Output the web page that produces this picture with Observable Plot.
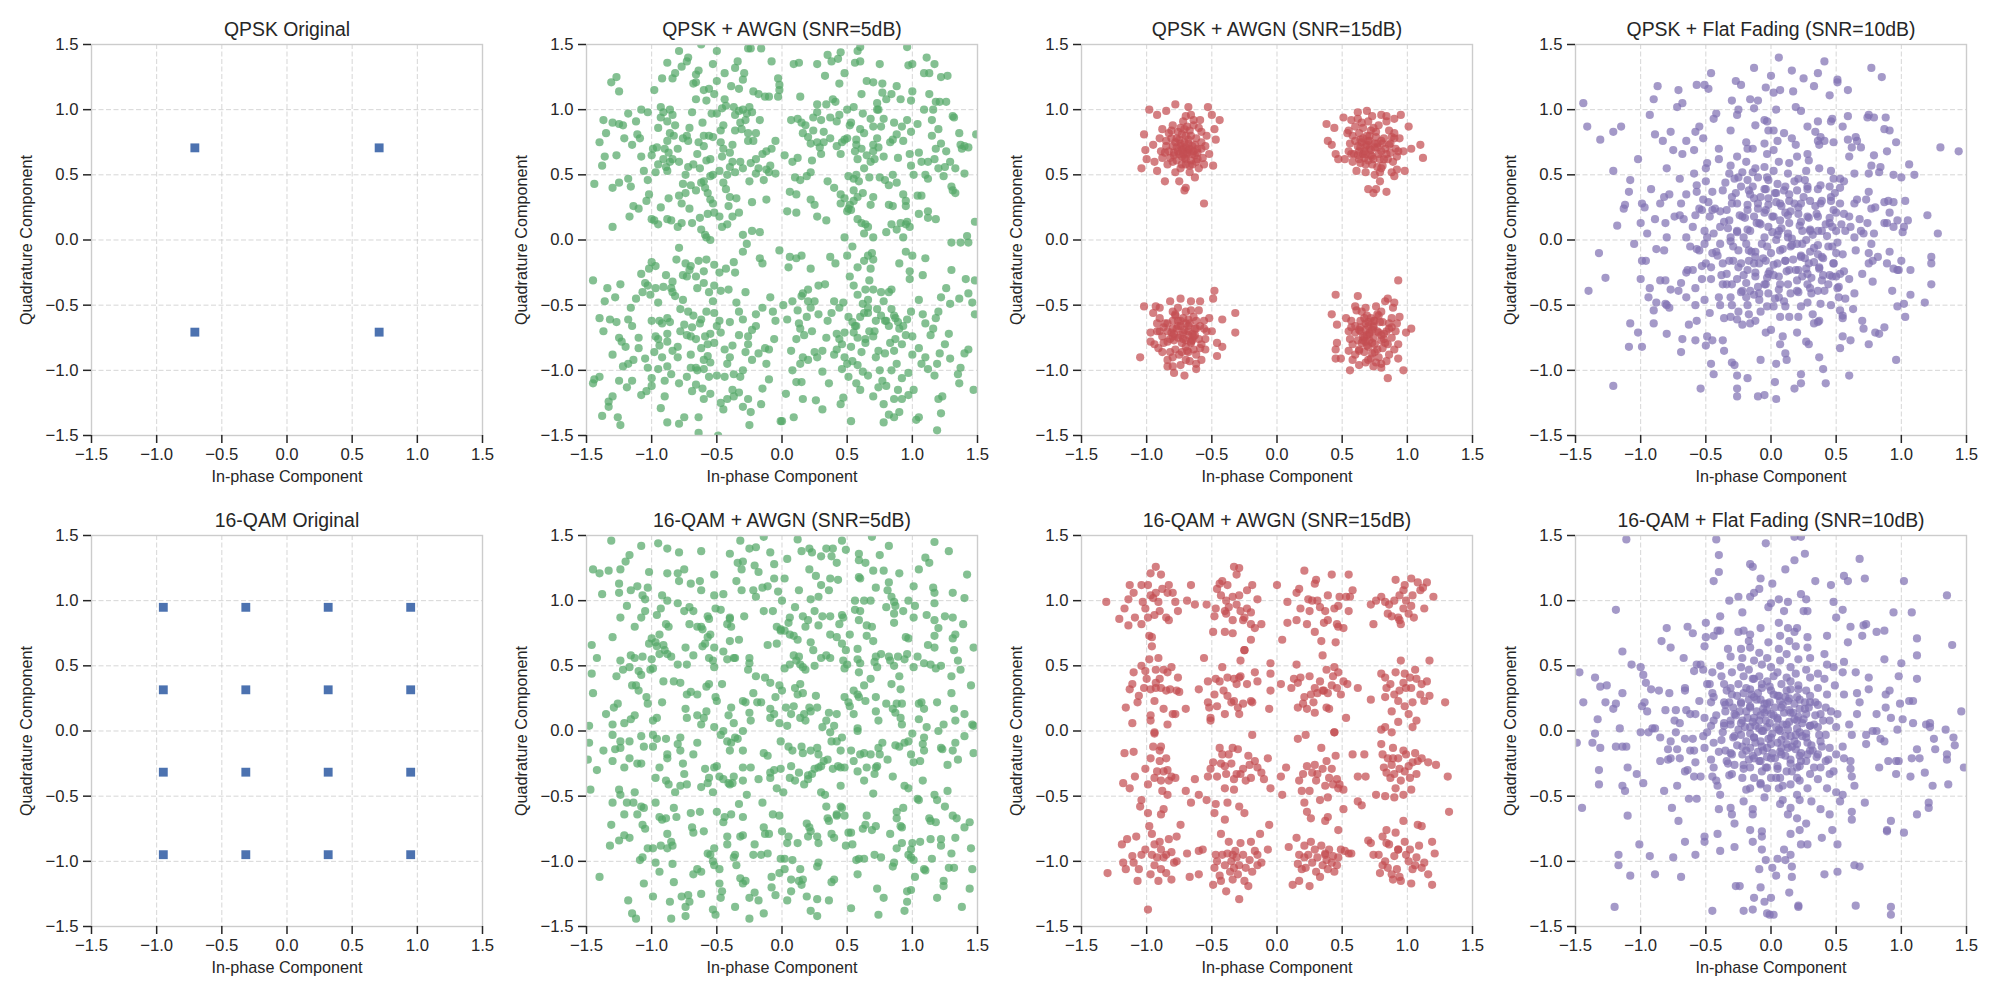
<!DOCTYPE html>
<html><head><meta charset="utf-8">
<script src="https://cdn.jsdelivr.net/npm/d3@7"></script>
<script src="https://cdn.jsdelivr.net/npm/@observablehq/plot@0.6"></script>
<style>
html,body{margin:0;padding:0;background:#fff}
#root{position:relative;width:2000px;height:1000px;overflow:hidden;font-family:"Liberation Sans",Arial,sans-serif}
</style></head><body><div id="root"></div>
<script>
// tick values shared by every panel
const tickValues = [-1.5,-1,-0.5,0,0.5,1,1.5];
const panelTitles = ["QPSK Original","QPSK + AWGN (SNR=5dB)","QPSK + AWGN (SNR=15dB)","QPSK + Flat Fading (SNR=10dB)",
  "16-QAM Original","16-QAM + AWGN (SNR=5dB)","16-QAM + AWGN (SNR=15dB)","16-QAM + Flat Fading (SNR=10dB)"];
const xLabel = "In-phase Component";
const yLabel = "Quadrature Component";

// [I, Q] pairs, flattened
const qpskIdeal = [.707,.707,-.707,.707,-.707,-.707,.707,-.707];
const qam16Ideal = [-.949,.949,-.316,.949,.316,.949,.949,.949,-.949,.316,-.316,.316,.316,.316,.949,.316,
  -.949,-.316,-.316,-.316,.316,-.316,.949,-.316,-.949,-.949,-.316,-.949,.316,-.949,.949,-.949];

const qpskAwgn5 = [
-1.44,.43,-1.31,1.21,-1.27,1.25,-1.25,1.14,-1.37,.92,-1.30,.90,-1.25,.89,-1.22,.88,-1.12,.91,-1.03,.98,-1.08,1.00,-1.40,.75,-1.36,.64,-1.38,.57,-1.30,.40,-1.25,.44,-1.21,.78,-1.15,.73,-1.11,.81,-1.18,.47,-1.16,.41,-1.14,.26,-1.10,.24,-1.06,.53,-1.03,.46,-1.04,.30,-.99,.70,-1.00,.65,-.96,.71,-.98,1.15,-.93,1.02,-.91,.98,-.88,.91,-.84,.96,-.93,.94,-.86,.82,-.88,.76,-.83,.80,-.87,.67,-.86,.60,-.88,.53,-.84,.62,-.80,.70,-.76,.78,-.73,.80,-.71,.86,-.72,.56,-.70,.42,-.66,.38,-.68,.58,-.63,.55,-.60,.80,-.56,.80,-.53,.79,-.47,.75,-.45,.88,-.50,.97,-.46,1.01,-.43,1.03,-.58,1.07,-.54,.97,-.52,1.12,-.44,1.08,-.60,1.15,-.56,1.16,-.82,1.28,-.84,1.24,-.77,1.33,-.73,1.37,-.72,1.40,-.66,1.21,-.66,1.27,-.68,1.20,-.88,1.36,-.79,1.45,-.62,1.50,-.50,1.45,-.44,1.28,-.39,1.18,-.33,1.16,-.30,1.23,-.29,1.28,-.34,1.37,-.26,1.47,-.24,1.47,-.16,1.47,-.08,1.37,-.03,1.24,-.02,1.19,-.02,1.15,-.10,1.10,-.13,1.10,-.18,1.12,-.22,1.14,-.37,1.02,-.36,.96,-.33,.99,-.30,1.00,-.27,.97,-.25,1.02,-.32,.90,-.28,.92,-.23,.98,-.26,.82,-.20,.82,-.26,.76,-.20,.62,-.15,.66,-.12,.68,-.18,.55,-.24,.59,-.30,.55,-.36,.52,-.32,.60,-.40,.56,-.48,.53,-.45,.44,-.43,.39,-.40,.33,-.35,.32,-.42,.50,-.53,.50,-.55,.49,-.60,.45,-.62,.44,-.57,.36,-.55,.31,-.53,.28,-.52,.21,-.48,.18,-.42,.12,-.38,.18,-.33,.21,-.30,.04,-.23,.07,-.23,.29,-.20,.51,-.10,.52,-.09,.57,-.05,.76,-.05,.51,-.03,1.10,-.80,.10,-.85,.15,-.88,.16,-.87,.32,-.79,.34,-.76,.43,-.74,.36,-.77,.13,-.71,.24,-.63,.17,-.62,.08,-.59,.04,-.55,.00,-.58,.02,-.69,.13,-1.17,.18,-1.30,.10,-1.00,.16,-.98,.15,-.95,.12,-.95,.86,-.91,.62,-.89,.56,-.97,.52,-1.09,.78,-.64,.75,-.60,.72,-.58,.61,-.46,.64,-.45,.70,-.40,.67,-.38,.73,-.36,.84,-.22,.76,-.12,.54,-.14,.46,-.17,.06,-.53,1.35,
.09,1.35,.13,1.36,.14,1.10,.27,1.35,.35,1.42,.38,1.37,.45,1.44,.43,1.39,.48,1.28,.56,1.36,.60,1.37,.60,1.48,.77,1.20,.65,1.22,.70,1.21,.96,1.48,.97,1.34,1.00,1.35,1.11,1.40,1.17,1.35,1.09,1.28,1.13,1.28,1.22,1.25,1.27,1.26,1.13,1.12,1.18,1.06,1.21,1.06,1.26,1.06,1.31,.95,1.36,.82,1.37,.73,1.40,.72,1.43,.71,1.49,.81,1.38,.70,1.18,.70,1.17,.62,1.25,.56,1.29,.60,1.33,.55,1.20,.55,1.12,.60,1.24,.49,1.30,.41,1.33,.36,1.31,.38,1.22,.74,1.20,.85,1.16,1.00,1.15,.92,1.09,1.00,1.04,.89,1.05,.67,.98,.66,.99,.57,1.01,.50,1.10,.50,1.12,.47,1.07,.34,1.04,.34,1.12,.17,1.12,.22,1.18,.16,1.48,.14,1.42,.03,1.43,-.02,.98,.10,.96,.14,.95,.12,.93,.02,.95,.26,.91,.13,.88,.08,.85,.26,.82,.27,.75,.48,.79,.46,.85,.50,.88,.44,.93,.35,.89,.63,.85,.77,.83,.75,.88,.81,.92,.87,.96,.92,.99,1.07,1.00,1.14,.91,1.08,.84,1.12,.80,1.08,.77,1.13,.73,1.05,.73,1.00,.78,.93,.76,.87,.70,.87,.73,.78,.74,.71,.70,.68,.71,.62,.68,.60,.65,.65,.63,.55,.61,.70,.57,.73,.57,.77,.60,.85,.62,.97,.68,.93,.55,1.02,.50,1.00,.44,.96,.42,.91,.41,1.06,.39,1.08,.34,1.04,.27,1.04,.24,.84,.20,.79,.22,.74,.27,.75,.32,.75,.37,.78,.42,.72,.46,.75,.48,.77,.50,.78,.53,.90,.56,.68,.51,.49,.55,.47,.57,.50,.59,.45,.62,.36,.58,.33,.55,.30,.52,.27,.51,.24,.53,.23,.58,.16,.61,.13,.63,.05,.64,.12,.66,.10,.70,.02,.70,.33,.80,.06,.40,.40,.45,.35,.35,.45,.30,.66,.23,.61,.19,.49,.14,.46,.10,.48,.08,.60,.02,.65,.07,.92,.12,.93,.15,.90,.18,.88,.24,.94,.27,.98,.30,.92,.32,.83,.06,.37,.11,.35,.22,.31,.25,.27,.04,.22,.11,.21,.27,.18,.34,.15,.45,.28,.48,.32,.50,.22,.48,.02,.54,-.05,
-1.45,-.31,-1.34,-.37,-1.28,-.44,-1.24,-.34,-1.36,-.47,-1.37,-.70,-1.32,-.61,-1.27,-.63,-1.18,-.61,-1.12,-.45,-1.07,-.40,-1.01,-.42,-1.05,-.33,-1.02,-.22,-1.00,-.17,-1.03,-.35,-.97,-.37,-.95,-.48,-.94,-.62,-.97,-.74,-.92,-.64,-.88,-.72,-.86,-.63,-.92,-.90,-.88,-.78,-.84,-.85,-.80,-.90,-.78,-.70,-.75,-.65,-.73,-.73,-.69,-.67,-.66,-.76,-.62,-.83,-.59,-.74,-.57,-.89,-.55,-.94,-.52,-.79,-.50,-.66,-.47,-.71,-.52,-.56,-.58,-.55,-.62,-.61,-.68,-.58,-.72,-.55,-.78,-.53,-.82,-.43,-.85,-.37,-.76,-.27,-.73,-.28,-.70,-.20,-.66,-.28,-.65,-.37,-.60,-.33,-.60,-.24,-.64,-.16,-.58,-.15,-.52,-.19,-.48,-.25,-.43,-.22,-.37,-.17,-.47,-.39,-.41,-.38,-.40,-.63,-.44,-.84,-.42,-.95,-.38,-.81,-.33,-.73,-.30,-.61,-.26,-.74,-.23,-.69,-.20,-.66,-.28,-.86,-.23,-.92,-.30,-1.00,-.32,-1.05,-.37,-1.03,-.44,-1.05,-.50,-1.04,-.56,-1.05,-.60,-.99,-.65,-1.00,-.70,-.98,-.73,-1.05,-.79,-1.10,-.85,-1.03,-.88,-.97,-.95,-.99,-1.00,-1.06,-1.03,-.98,-1.05,-.91,-1.10,-.83,-1.14,-.92,-1.18,-.95,-1.22,-.97,-1.25,-1.08,-1.30,-1.20,-1.33,-1.24,-1.19,-1.13,-1.15,-1.08,-1.08,-1.19,-1.04,-1.16,-1.00,-1.12,-.93,-1.29,-.88,-1.40,-.79,-1.41,-.75,-1.36,-.69,-1.16,-.66,-1.11,-.60,-1.22,-.55,-1.18,-.47,-1.25,-.42,-1.22,-.38,-1.15,-.37,-1.20,-.33,-1.17,-.26,-1.22,-.24,-1.32,-.25,-1.42,-.16,-1.26,-.15,-1.14,-.10,-1.07,-.01,-1.39,-.64,-1.48,-.49,-1.50,-1.26,-1.36,-1.24,-1.42,-1.38,-1.35,-1.33,-1.28,-1.45,-1.10,-1.44,-1.07,-1.40,-1.05,-1.20,-.82,-1.25,-.75,-1.15,-.66,-1.23,-.78,-.90,-1.08,-.13,-.83,-.18,-.87,-.06,-.76,-.10,-.84,-.07,-.55,-.15,-.52,-.09,-.44,-.28,-.40,-.35,-.48,-.36,-.25,-.30,-.09,-.27,-.03,-.17,-.14,-.15,-.18,-.02,-.08,-.56,-.40,-.53,-.47,-.55,-.72,-.70,-.88,-.60,-.92,-.84,-.32,-.79,-.06,-.74,-.18,-.81,-.15,-.89,-.27,-.91,-.36,-.94,-.81,-.98,-.86,
.05,-.21,.08,-.47,.12,-.54,.15,-.43,.16,-.41,.20,-.47,.13,-.64,.19,-.59,.22,-.52,.25,-.47,.28,-.57,.23,-.70,.17,-.73,.11,-.76,.07,-.85,.14,-.95,.16,-.90,.20,-.92,.25,-.86,.31,-.85,.34,-.75,.38,-.56,.40,-.47,.44,-.52,.47,-.48,.44,-.76,.46,-.80,.48,-.71,.51,-.59,.54,-.63,.57,-.66,.55,-.71,.58,-.75,.60,-.59,.63,-.56,.62,-.49,.66,-.46,.64,-.38,.58,-.42,.55,-.35,.67,-.31,.70,-.38,.73,-.53,.78,-.47,.82,-.40,.84,-.53,.86,-.58,.87,-.60,.89,-.63,.90,-.68,.87,-.76,.83,-.79,.79,-.87,.74,-.85,.72,-.90,.70,-.74,.67,-.70,.64,-.76,.61,-.86,.58,-.96,.54,-.93,.53,-.82,.48,-.90,.42,-.84,.40,-.88,.46,-.99,.51,-1.05,.57,-1.10,.62,-1.01,.66,-1.04,.70,-1.20,.74,-1.13,.77,-1.08,.80,-1.12,.84,-1.00,.88,-.95,.92,-.80,.95,-.73,.96,-.61,.99,-.55,1.05,-.46,1.08,-.57,1.10,-.64,1.14,-.73,1.16,-.68,1.20,-.55,1.22,-.44,1.26,-.37,1.29,-.49,1.36,-.45,1.41,-.30,1.43,-.41,1.46,-.48,1.48,-.57,1.43,-.84,1.40,-.87,1.37,-.98,1.35,-1.03,1.29,-.91,1.25,-.80,1.21,-.87,1.19,-.95,1.17,-1.04,1.12,-.99,1.07,-.95,1.05,-.83,1.00,-.88,.97,-1.02,.92,-1.06,.89,-1.15,.86,-1.22,.90,-1.32,.86,-1.36,.82,-1.34,.78,-1.26,.97,-1.19,1.01,-1.15,1.03,-1.38,1.05,-1.36,1.23,-1.20,1.20,-1.22,1.22,-1.33,1.19,-1.46,1.47,-1.15,.53,-1.39,.47,-1.21,.36,-1.10,.31,-1.01,.26,-1.23,.16,-1.22,.15,-1.09,.11,-1.09,.09,-1.36,.03,-1.18,.00,-1.39,.04,-.61,.01,-.50,.06,-.13,.11,-.14,.15,-.12,.22,-.22,.28,-.35,.33,-.34,.37,-.13,.41,-.18,.50,-.12,.58,-.21,.63,-.16,.66,-.12,.69,-.10,.70,-.15,.76,-.40,.80,-.62,.82,-.66,.76,-.58,.72,-.62,.66,-.56,1.30,-.02,1.30,-.23,1.37,-.02,1.48,-.31,1.08,-.27,.98,-.24,.90,-.18,.95,-.09,1.00,-.12,
-.72,.76,-.65,.66,-.79,.60,-.61,.90,-.90,.70,-.69,.98,-.55,.62,-.82,.88,-.74,.50,-.47,.84,-.95,.58,-.66,1.08,-.38,.60,-.86,1.00,-.59,.40,-1.08,.64,-.50,1.22,-.77,.28,-.31,.85,-1.18,.97,-.41,.26,-.64,1.30,-1.02,.35,-.25,.45,-.92,1.24,-.17,.92,-1.27,.65,-.36,1.32,-.57,.20,-.12,.31,-1.35,.82,-.08,.70,-.46,.10,-.93,.25,
.70,.73,.63,.82,.78,.64,.58,.62,.86,.90,.67,.48,.52,.88,.93,.76,.74,1.00,.45,.66,.99,.83,.61,1.12,.82,.42,.37,.94,1.07,.60,.55,.38,.88,1.18,.29,.71,1.15,.80,.68,.27,.44,1.20,1.26,.68,.22,.52,.95,.30,.33,1.26,1.32,.94,.16,.82,.75,1.35,1.05,.20,.12,.63,1.40,.51,.84,.12,.58,1.45,
-.70,-.74,-.63,-.64,-.80,-.82,-.57,-.80,-.88,-.60,-.66,-.98,-.48,-.62,-.95,-.76,-.76,-.46,-.40,-.90,-1.00,-.62,-.61,-1.14,-.84,-.40,-.33,-.55,-1.10,-.75,-.52,-.35,-.90,-1.20,-.26,-.80,-1.16,-.52,-.71,-.23,-.45,-1.30,-1.30,-.88,-.20,-.57,-.97,-.20,-.30,-1.28,-1.40,-.60,-.12,-.95,-.64,-1.36,-1.08,-.26,-.05,-.62,
.71,-.70,.64,-.79,.79,-.62,.56,-.66,.86,-.85,.66,-.52,.50,-.95,.93,-.66,.75,-1.00,.42,-.72,1.00,-.74,.60,-1.15,.84,-.38,.35,-.62,1.10,-.90,.52,-.28,.92,-1.22,.27,-.90,1.18,-.60,.68,-.22,.45,-1.26,1.28,-.72,.20,-.38,.98,-.30,.31,-1.30,1.36,-1.10,.14,-.68,.78,-1.40,1.10,-.14,.08,-1.00];

const qpskAwgn15 = [
-.98,1.00,-1.04,.55,-1.02,.81,-1.01,.69,-1.00,.62,-.92,.96,-.85,.99,-.78,1.04,-.68,1.02,-.53,1.02,-.50,.96,-.44,.92,-.56,.28,-.71,.38,-.70,.40,-.86,.45,-.92,.53,-.94,.60,-.95,.73,-.49,.57,-.47,.77,-.48,.85,
-.72,.70,-.68,.74,-.75,.66,-.80,.72,-.64,.68,-.70,.80,-.77,.78,-.62,.78,-.66,.61,-.73,.58,-.82,.63,-.85,.76,-.88,.85,-.80,.88,-.72,.91,-.64,.88,-.58,.83,-.55,.72,-.57,.63,-.60,.55,-.67,.52,-.78,.52,-.84,.58,-.89,.68,-.69,.66,-.74,.74,-.65,.72,-.79,.67,-.71,.63,-.61,.70,-.76,.83,-.67,.84,-.59,.92,-.83,.82,-.86,.67,-.75,.45,-.63,.48,-.52,.66,-.54,.80,-.61,.62,-.70,.58,-.81,.78,-.70,.95,-.66,.96,-.73,.64,-.77,.71,-.68,.69,-.63,.65,-.58,.75,-.74,.86,-.88,.63,-.80,.60,-.56,.58,-.65,.58,-.60,.86,
-.70,.71,-.73,.69,-.69,.67,-.74,.72,-.71,.75,-.67,.70,-.76,.68,-.72,.66,-.68,.77,-.75,.77,-.65,.66,-.79,.65,-.70,.62,-.63,.73,-.78,.75,-.66,.80,-.73,.81,-.61,.67,-.83,.68,-.69,.87,-.77,.61,-.62,.60,-.85,.72,-.58,.70,-.74,.55,-.81,.84,-.67,.57,-.64,.92,-.90,.78,-.71,.85,
.38,.89,.44,.86,.39,.76,.42,.73,.45,.66,.47,.62,.51,.94,.62,.98,.69,.99,.84,.95,.95,.96,1.01,.87,.90,.93,.97,.68,1.03,.70,1.10,.73,1.12,.63,.98,.53,.90,.49,.79,.45,.84,.37,.76,.39,.70,.39,.74,.36,.92,.54,.90,.78,
.71,.70,.75,.74,.66,.66,.62,.72,.80,.68,.69,.80,.76,.79,.82,.78,.64,.59,.73,.58,.85,.62,.87,.74,.58,.80,.60,.87,.70,.91,.78,.88,.86,.84,.91,.70,.89,.60,.80,.55,.68,.52,.58,.60,.55,.68,.65,.75,.72,.65,.77,.71,.68,.72,.83,.70,.74,.62,.63,.82,.56,.74,.94,.78,.92,.64,.75,.50,.61,.53,.52,.62,.79,.62,.66,.86,.84,.91,.73,.95,.57,.92,.88,.52,.67,.63,.70,.76,.81,.74,.63,.68,.77,.56,.59,.66,.87,.67,.72,.84,.64,.77,.54,.82,.90,.82,.80,.96,.62,.93,
.72,.69,.69,.73,.75,.71,.67,.68,.71,.76,.78,.66,.64,.71,.73,.64,.80,.76,.66,.78,.70,.61,.84,.66,.62,.65,.76,.83,.60,.76,.86,.73,.74,.86,.68,.58,.81,.57,.57,.66,.88,.79,.65,.90,.79,.52,.93,.68,.55,.84,.71,.80,.63,.62,.77,.74,.68,.66,.82,.62,
-1.05,-.90,-1.02,-.51,-.95,-.56,-.97,-.71,-.97,-.78,-.84,-.97,-.79,-1.02,-.71,-1.04,-.62,-.99,-.46,-.89,-.42,-.82,-.32,-.56,-.32,-.71,-.42,-.61,-.48,-.39,-.49,-.45,-.59,-.47,-.66,-.47,-.82,-.47,-.93,-.51,-.46,-.79,
-.72,-.71,-.68,-.66,-.76,-.75,-.80,-.68,-.64,-.74,-.70,-.82,-.78,-.84,-.84,-.78,-.62,-.62,-.72,-.60,-.86,-.64,-.88,-.74,-.58,-.80,-.62,-.88,-.70,-.92,-.80,-.90,-.88,-.86,-.92,-.70,-.90,-.60,-.80,-.55,-.66,-.54,-.56,-.62,-.54,-.70,-.66,-.78,-.74,-.66,-.79,-.72,-.68,-.73,-.84,-.70,-.76,-.62,-.64,-.84,-.55,-.76,-.94,-.80,-.92,-.64,-.76,-.52,-.60,-.54,-.52,-.60,-.80,-.62,-.68,-.86,-.84,-.92,-.74,-.96,-.58,-.92,-.90,-.52,-.67,-.64,-.70,-.77,-.82,-.76,-.63,-.68,-.78,-.57,-.59,-.66,-.87,-.67,-.73,-.86,-.65,-.77,-.55,-.84,-.91,-.83,-.80,-.97,-.62,-.95,-.50,-.70,-.74,-.45,
-.71,-.69,-.74,-.73,-.68,-.70,-.72,-.76,-.77,-.68,-.65,-.72,-.70,-.64,-.79,-.77,-.66,-.79,-.74,-.62,-.62,-.68,-.81,-.71,-.69,-.85,-.84,-.64,-.60,-.76,-.75,-.88,-.87,-.79,-.64,-.59,-.78,-.58,-.59,-.83,-.90,-.70,-.70,-.55,-.82,-.86,-.56,-.68,-.67,-.93,-.73,-.79,-.63,-.73,-.80,-.74,-.68,-.61,-.76,-.66,
.45,-.42,.42,-.57,.46,-.65,.45,-.84,.45,-.91,.49,-.91,.56,-1.00,.68,-.94,.80,-.95,.85,-1.06,.97,-1.00,.93,-.91,.99,-.71,1.03,-.68,.94,-.59,.90,-.48,.93,-.31,.62,-.43,.60,-.51,.85,-.45,.83,-.47,.46,-.79,
.71,-.71,.74,-.66,.67,-.75,.63,-.69,.80,-.73,.70,-.82,.77,-.84,.83,-.79,.64,-.62,.72,-.60,.86,-.64,.88,-.75,.58,-.80,.60,-.88,.70,-.92,.78,-.90,.86,-.88,.91,-.70,.88,-.60,.80,-.55,.68,-.52,.57,-.62,.55,-.70,.66,-.77,.74,-.67,.78,-.71,.69,-.73,.84,-.70,.75,-.62,.63,-.84,.56,-.76,.93,-.80,.92,-.64,.76,-.51,.61,-.54,.53,-.60,.81,-.63,.67,-.86,.84,-.93,.74,-.97,.58,-.92,.89,-.52,.68,-.64,.71,-.77,.82,-.76,.64,-.70,.77,-.57,.60,-.66,.86,-.68,.73,-.87,.65,-.79,.55,-.85,.90,-.84,.80,-.98,.63,-.96,.75,-.80,.69,-.58,
.71,-.72,.68,-.69,.74,-.75,.70,-.66,.66,-.74,.77,-.70,.73,-.79,.64,-.67,.79,-.63,.69,-.81,.75,-.86,.62,-.77,.82,-.72,.67,-.60,.85,-.80,.60,-.71,.72,-.91,.78,-.58,.63,-.85,.88,-.67,.70,-.63,.57,-.67,.76,-.94,.81,-.83,.65,-.55,.73,-.69,.68,-.78,.80,-.77,.74,-.62];

const qpskFading = [
-1.44,1.05,-1.41,.87,-1.31,.77,-1.21,.83,-1.15,.87,-1.21,.53,-1.18,.11,-1.32,-.10,-1.27,-.29,-1.40,-.39,-1.21,-1.12,-1.09,-.82,-1.08,-.64,-1.02,-.71,-.99,-.82,-1.02,.62,-1.08,.46,-1.09,.37,-1.12,.27,-1.13,.24,-1.05,-.03,-1.00,.13,-.99,-.16,-1.00,-.30,-.95,.05,-.96,-.16,-.97,.25,-.99,.28,-.93,.96,-.89,.81,-.90,1.08,-.87,1.18,-.83,.76,-.85,.28,-.92,.39,-.89,.16,-.88,-.07,-.93,-.37,-.94,-.44,-.90,-.54,-.90,-.64,-.88,-.48,-.82,.33,-.81,.13,-.80,.02,-.82,-.08,-.85,-.31,-.81,-.31,-.80,-.50,-.81,-.49,-.80,-.72,-.78,-.52,-.77,.83,-.80,.55,-.78,.35,-.77,-.38,-.74,.18,-.71,1.15,-.72,1.02,-.68,1.05,-.75,.69,-.70,.47,-.70,.19,-.68,.66,-.69,.28,-.68,-.76,-.69,-.86,-.69,-.33,-.71,-.39,-.65,.76,-.65,.35,-.67,.16,-.65,.02,-.65,-.25,-.65,-.44,-.63,-.65,-.64,-.23,-.60,.10,-.62,-.05,-.60,-.23,-.59,.51,-.59,.69,-.58,.83,-.55,.87,-.57,.42,-.57,.37,-.55,.24,-.57,-.07,-.58,-.37,-.58,-.50,-.57,-.62,-.58,-.77,-.52,.78,-.53,.23,-.54,-1.14,-.53,-.30,-.51,.07,-.51,-.03,-.50,-.18,-.51,-.46,-.50,-.81,-.49,-.74,-.57,1.19,-.51,1.19,-.48,1.16,-.49,.59,-.50,.55,-.46,1.28,-.42,.97,-.44,.93,-.48,.29,-.45,.23,-.45,-.10,-.46,-.21,-.47,-.56,-.45,-.77,-.44,-1.03,-.46,-.95,
-.40,.70,-.40,.62,-.37,.38,-.39,.10,-.39,-.03,-.37,-.18,-.37,-.34,-.39,-.50,-.36,-.60,-.37,-.77,-.36,-.85,-.31,.84,-.30,1.07,-.31,.57,-.32,.51,-.30,.33,-.34,.23,-.32,.15,-.31,.02,-.29,-.16,-.34,-.26,-.30,-.34,-.31,-.44,-.30,-.50,-.31,-.59,-.30,-.94,-.28,-.96,-.26,-1.14,-.26,-1.20,-.27,1.22,-.25,1.00,-.26,.96,-.23,1.19,-.26,.64,-.25,.48,-.23,.41,-.26,.28,-.26,.07,-.22,.18,-.25,-.08,-.23,-.18,-.26,-.30,-.22,-.39,-.25,-.55,-.26,-.61,-.22,-.65,-.26,-1.04,-.19,.75,-.18,.70,-.19,.60,-.18,.46,-.17,.38,-.18,.23,-.16,.07,-.19,-.03,-.17,-.16,-.18,-.23,-.16,-.39,-.19,-.44,-.18,-.50,-.17,-.57,-.16,-.64,-.18,-1.06,-.10,-1.20,-.16,1.08,-.13,1.01,-.12,.88,-.13,1.32,-.10,1.07,-.14,.70,-.12,.55,-.10,.48,-.13,.32,-.10,.28,-.13,.18,-.09,.13,-.12,-.09,-.09,-.18,-.12,-.28,-.10,-.36,-.13,-.42,-.09,-.46,-.08,-.55,-.12,-.62,-.08,-.92,-.05,-1.19,-.05,.92,-.04,1.17,-.03,.91,-.02,.84,-.05,.74,-.03,.66,-.05,.56,-.03,.48,-.05,.39,-.02,.32,-.04,.23,-.02,.10,-.05,.02,-.03,-.05,-.04,-.16,-.02,-.26,-.04,-.34,-.02,-.41,-.03,-.51,-.04,-.71,.00,-.69,.00,1.26,.02,1.13,.06,1.40,.07,1.15,.04,1.00,.02,.84,.05,.76,.02,.69,.06,.60,.02,.53,.05,.43,.04,.36,.07,.28,.02,.18,.06,.07,.04,.00,.07,-.08,.05,-.18,.02,-.27,.07,-.34,.06,-.44,.02,-.51,.07,-.59,.04,-.95,.03,-1.09,.04,-1.22,.07,-.80,.09,-.74,.10,.82,.11,-.87,.12,-.92,.14,.59,.13,.51,.11,.41,.14,.30,.11,.21,.14,.13,.13,.02,.15,-.05,.11,-.16,.14,-.23,.13,-.34,.15,-.41,.11,-.51,.14,-.59,.16,1.30,.17,1.14,.16,.78,.19,.73,.18,-1.14,.19,1.02,.23,.99,.25,1.24,.20,.64,.21,.47,.20,.38,.23,.28,.21,.20,.24,.07,.20,-.03,.23,-.13,.21,-.23,.24,-.28,.20,-.39,.23,-.51,.21,-.59,.20,-.71,.23,-1.03,.23,-1.10,.27,-.78,.29,-.80,.28,.87,.28,.66,.29,.61,.27,.53,.28,.41,.30,.30,.28,.18,.30,.07,.27,.00,.30,-.09,.29,-.18,.28,-.26,.30,-.37,.28,-.48,.32,-.57,.33,-.64,.33,1.18,.36,1.28,.34,.83,.36,.76,.38,.79,.41,.76,.36,.91,.37,.73,.37,.55,.36,.39,.38,.28,.36,.18,.39,.07,.36,-.04,.39,-.13,.37,-.21,.39,-.31,.36,-.39,.38,-.49,.36,-.63,.37,-.62,.37,-.90,.41,1.37,.40,-.99,.42,-1.10,
.45,1.11,.46,.91,.47,.93,.48,.75,.46,.53,.45,.41,.48,.47,.46,.33,.48,.23,.45,.13,.50,.07,.47,-.05,.48,-.18,.45,-.27,.50,-.28,.46,-.50,.51,1.23,.51,1.21,.53,.47,.55,.87,.53,.28,.56,.20,.55,-.11,.53,-.26,.51,-.37,.52,-.44,.53,-.54,.55,-.60,.55,-.74,.53,-.83,.55,-.58,.57,-.45,.59,1.15,.59,.95,.59,.77,.60,.64,.56,.45,.60,.18,.61,.10,.60,-.30,.61,-.77,.60,-1.04,.62,.71,.64,.51,.64,.28,.64,.02,.65,-.08,.64,-.41,.63,-.53,.65,.79,.66,.76,.66,.31,.68,.16,.69,.71,.69,.07,.70,-.26,.70,-.62,.71,-.68,.73,.31,.71,.05,.74,.94,.75,.96,.77,.57,.75,.51,.75,.37,.77,.24,.74,.13,.77,-.03,.75,-.10,.78,-.16,.75,-.18,.78,-.32,.75,-.80,.77,1.32,.79,.94,.79,.65,.80,.25,.79,.05,.82,-.13,.80,-.71,.83,-.72,.83,.52,.84,.56,.85,1.25,.87,.85,.88,.94,.87,.29,.87,.13,.89,.68,.90,.30,.91,.21,.89,.13,.91,-.09,.89,-.18,.87,-.67,.93,-.39,.94,.50,.96,.75,.94,.10,.94,-.22,.97,.15,.97,-.23,.97,-.51,.96,-.92,.98,-.23,1.00,.48,1.00,-.16,1.01,.06,1.02,.10,1.02,-.49,1.03,.30,1.03,-.59,1.05,.15,1.06,.58,1.07,-.23,1.07,-.42,1.10,.50,1.18,-.48,1.20,.19,1.23,-.13,1.23,-.18,1.23,-.34,1.28,.05,1.30,.71,1.44,.68,.94,.29,.91,.84,
-.52,.31,-.47,.18,-.44,.05,-.41,-.12,-.38,-.27,-.35,.44,-.33,.09,-.29,-.05,-.27,.36,-.25,-.21,-.22,.52,-.21,.02,-.19,-.33,-.18,.27,-.15,-.09,-.14,.41,-.12,-.25,-.11,.13,-.09,-.41,-.08,.33,-.06,-.14,-.05,.21,-.03,-.29,-.02,.46,.01,.06,.02,-.19,.04,.29,.06,-.38,.07,.15,.09,-.07,.10,.38,.12,-.24,.13,.05,.15,.22,.17,-.15,.18,.45,.20,-.31,.22,.11,.24,-.03,.25,.33,.27,-.22,.29,.17,.31,-.41,.32,.04,.34,.26,.36,-.11,.38,.42,.40,-.27,.42,.12,.44,-.05,.46,.30,.48,-.18,.50,.21,.52,-.36,
-.55,-.08,-.50,.45,-.46,-.30,-.43,.24,-.40,-.44,-.36,.14,-.32,-.16,-.30,.28,-.26,.06,-.23,-.40,-.20,.17,-.17,-.08,-.16,.35,-.13,-.18,-.10,.24,-.07,-.03,-.04,.39,-.01,-.24,.01,.18,.03,-.45,.05,.04,.08,.26,.11,-.16,.14,.35,.16,.01,.19,-.23,.21,.25,.23,-.12,.26,.46,.28,-.34,.30,.08,.33,-.06,.35,.20,.37,-.22,.39,.30,.41,-.39,.43,.03,.45,.17,.47,-.28,.49,.36,.51,-.02,.54,.12,.56,-.24,
-.58,.19,-.53,-.20,-.49,.02,-.45,.37,-.42,-.09,-.39,.22,-.34,-.34,-.31,-.01,-.28,.47,-.24,.19,-.21,-.27,-.18,.08,-.14,.52,-.12,-.13,-.08,.12,-.05,-.34,-.02,.27,.00,-.10,.03,.36,.06,-.28,.08,.09,.10,-.47,.13,.19,.16,-.04,.18,.28,.21,-.40,.23,.14,.26,-.14,.28,.39,.31,-.29,.33,-.17,.36,.07,.40,-.14,.44,-.34,.47,.10,.50,-.10,.53,.40,.57,.07];

const qam16Awgn5 = [
-1.31,1.46,-1.08,1.42,-1.17,1.35,-1.45,1.24,-1.40,1.21,-1.33,1.23,-1.24,1.24,-.88,1.40,-.79,1.37,-.88,1.21,-.75,1.24,-.80,1.21,-.40,1.36,-.32,1.46,-.34,1.29,-.30,1.30,-.31,1.24,-.21,1.27,-.20,1.41,-.14,1.49,-.09,1.37,-.06,1.28,.12,1.47,.15,1.38,.21,1.40,.23,1.37,.30,1.34,.34,1.40,.39,1.40,.38,1.34,.42,1.29,.49,1.39,.59,1.36,.59,1.31,.64,1.29,.69,1.49,.75,1.35,.78,1.23,.70,1.23,.21,1.24,.26,1.19,1.10,1.33,1.13,1.29,1.17,1.45,.90,1.21,
-1.25,1.13,-1.25,1.06,-1.11,1.11,-1.03,1.10,-1.16,1.08,-1.07,1.04,-1.05,1.01,-1.19,.96,-1.24,.87,-1.13,.80,-1.08,.87,-1.05,.92,-.92,1.04,-.88,1.00,-.93,.94,-.96,.89,-.79,1.15,-.70,1.13,-.75,.92,-.71,.95,-.68,.92,-.63,1.15,-.62,1.08,-.71,.82,-.62,.80,-.57,.88,-.56,.86,-.52,1.04,-.45,1.05,-.51,.94,-.47,.93,-.42,.82,-.40,.87,-.39,.80,-.35,1.15,-.31,1.08,-.29,.88,-.20,1.03,-.15,1.10,-.11,1.11,-.06,1.17,.02,1.17,-.03,1.07,.00,1.00,-.14,.92,-.07,.92,-.04,.80,-.01,.78,.06,.87,.05,.83,.13,1.08,.16,.88,.20,.85,.18,.80,.22,1.01,.28,1.03,.28,.81,.25,.92,.36,1.08,.37,1.17,.43,1.16,.31,.88,.37,.88,.44,.82,.46,.89,.47,.87,.56,1.00,.59,1.18,.60,1.17,.56,.93,.59,.85,.63,1.00,.65,.81,.68,1.00,.69,.80,.82,1.14,.81,1.08,.84,1.03,.86,.99,.87,.96,.80,.95,.86,.90,.86,.83,.93,.92,.97,1.00,1.01,1.11,1.01,.87,1.11,.89,1.16,1.10,1.17,1.06,1.17,.98,1.17,.85,1.31,1.06,1.31,.87,1.39,.82,
-1.42,.56,-1.46,.44,-1.45,.29,-1.27,.42,-1.24,.54,-1.22,.47,-1.17,.49,-1.16,.58,-1.13,.56,-1.07,.57,-1.10,.46,-1.08,.43,-1.01,.47,-.99,.48,-1.02,.67,-1.00,.71,-.97,.68,-.96,.65,-.94,.74,-.91,.66,-.90,.62,-.94,.59,-.88,.59,-.85,.57,-.89,.82,-.87,.80,-.80,.51,-.74,.64,-.73,.51,-.68,.58,-.65,.80,-.61,.78,-.61,.65,-.57,.72,-.59,.67,-.55,.74,-.56,.56,-.53,.54,-.52,.49,-.52,.64,-.45,.61,-.42,.55,-.37,.56,-.40,.69,-.36,.56,-.25,.56,-.25,.52,-.26,.47,-.11,.66,-.04,.67,-.01,.77,.02,.77,.06,.74,.09,.73,.06,.51,.09,.58,.11,.54,.13,.57,.14,.51,.16,.49,.18,.47,.22,.68,.25,.50,.30,.56,.34,.58,.37,.56,.37,.74,.42,.72,.46,.67,.49,.62,.50,.51,.47,.54,.58,.63,.58,.55,.59,.45,.60,.52,.65,.73,.70,.69,.72,.57,.71,.53,.73,.49,.76,.59,.82,.57,.83,.54,.86,.50,.89,.57,.94,.55,.96,.59,.97,.71,1.01,.49,1.04,.57,1.09,.52,1.14,.51,1.18,.48,1.22,.50,1.17,.64,1.17,.73,1.20,.79,1.33,.74,1.31,.71,1.35,.54,1.37,.47,1.47,.64,.90,.42,.91,.32,
-1.35,.13,-1.29,.18,-1.26,.21,-1.30,.05,-1.21,.06,-1.16,.09,-1.13,.12,-1.12,.35,-1.10,.31,-1.04,.26,-1.03,.21,-.99,.08,-.96,.10,-.91,.38,-.83,.38,-.78,.37,-.73,.28,-.74,.17,-.73,.10,-.65,.28,-.65,.12,-.62,.05,-.58,.34,-.58,.15,-.56,.36,-.51,.26,-.50,.23,-.52,.03,-.46,.36,-.41,.12,-.39,.18,-.37,.06,-.30,.00,-.30,.23,-.28,.22,-.25,.14,-.24,.08,-.22,.29,-.19,.22,-.16,.22,-.13,.41,-.09,.37,-.09,.17,-.09,.10,-.06,.13,-.02,.06,-.02,.35,.00,.31,.03,.18,.04,.04,.07,.13,.09,.19,.10,.33,.12,.28,.14,.36,.16,.29,.14,.10,.17,.13,.18,.08,.21,.18,.22,.15,.26,.27,.27,.18,.31,.03,.34,.08,.36,.14,.42,.13,.48,.26,.51,.22,.52,.19,.55,.31,.55,.13,.59,.26,.58,.28,.63,.35,.64,.23,.72,.15,.74,.08,.72,.26,.80,.21,.85,.17,.87,.14,.88,.21,.92,.21,.91,.10,1.05,.21,1.07,.22,1.09,.17,1.05,.09,1.11,.03,1.19,.22,1.24,.05,1.32,.17,1.33,.08,1.40,.13,1.47,.04,1.30,.42,1.30,.29,
-1.48,.04,-1.48,-.09,-1.49,-.22,-1.47,-.45,-1.37,-.15,-1.30,-.03,-1.30,-.23,-1.28,-.14,-1.24,-.13,-1.24,-.08,-1.17,-.08,-1.17,-.21,-1.21,-.28,-1.11,-.25,-1.08,-.04,-1.08,-.25,-.99,-.03,-.99,-.12,-.96,-.06,-.97,-.36,-.94,-.28,-.89,-.06,-.88,-.18,-.88,-.21,-.89,-.38,-.87,-.41,-.80,-.10,-.78,-.05,-.78,-.15,-.76,-.25,-.75,-.33,-.73,-.41,-.82,-.47,-.65,-.09,-.62,-.43,-.57,-.40,-.59,-.29,-.56,-.36,-.53,-.47,-.52,-.28,-.50,-.27,-.48,-.35,-.45,-.37,-.41,-.40,-.40,-.41,-.37,-.35,-.47,-.03,-.42,-.08,-.40,-.15,-.39,-.09,-.38,-.40,-.34,-.06,-.30,-.15,-.30,-.28,-.30,-.38,-.27,-.49,-.24,-.28,-.18,-.37,-.14,-.17,-.11,-.19,-.09,-.36,-.09,-.32,-.06,-.30,-.04,-.44,-.01,-.29,.01,-.47,-.01,-.08,.05,-.12,.06,-.36,.08,-.15,.07,-.27,.10,-.38,.13,-.32,.17,-.41,.16,-.17,.20,-.37,.22,-.15,.23,-.33,.25,-.29,.27,-.13,.28,-.28,.30,-.27,.32,-.23,.35,-.22,.30,-.47,.33,-.49,.37,-.01,.38,-.08,.39,-.29,.42,-.08,.43,-.27,.45,-.15,.46,-.05,.45,-.28,.48,-.28,.45,-.42,.53,-.15,.55,-.23,.58,-.31,.60,-.18,.58,.00,.63,-.17,.63,-.38,.65,-.28,.68,-.18,.71,-.33,.72,-.28,.73,-.27,.74,-.13,.75,-.18,.77,-.09,.81,-.22,.85,-.35,.87,-.11,.90,-.12,.94,-.09,.97,-.08,.94,-.42,.99,-.18,.97,-.44,1.01,-.24,1.06,-.23,1.08,-.10,1.09,-.05,1.09,-.15,1.04,-.52,1.17,-.49,1.22,-.13,1.23,-.14,1.27,-.26,1.31,-.15,1.33,-.09,1.40,-.04,1.47,-.17,1.46,.05,1.27,-.46,
-1.30,-.55,-1.24,-.49,-1.19,-.55,-1.14,-.55,-1.13,-.47,-1.31,-.72,-1.21,-.64,-1.25,-.84,-1.21,-.80,-1.17,-.82,-1.08,-.58,-1.07,-.72,-1.06,-.59,-1.11,-.64,-1.09,-.99,-1.07,-.97,-1.03,-.90,-.99,-.90,-.93,-.88,-.97,-1.01,-.94,-1.08,-1.06,-1.17,-.99,-1.27,-1.15,-1.40,-1.12,-1.44,-.97,-.55,-.94,-.66,-.92,-.68,-.89,-.67,-.88,-.79,-.85,-.85,-.84,-.88,-.88,-.90,-.83,-.59,-.81,-.66,-.83,-1.16,-.86,-1.31,-.85,-1.44,-.77,-1.27,-.74,-1.35,-.74,-1.42,-.70,-.63,-.69,-.74,-.68,-.78,-.68,-1.10,-.65,-1.06,-.62,-1.08,-.72,-1.26,-.71,-1.31,-.63,-.62,-.60,-.77,-.57,-.94,-.55,-.95,-.53,-1.00,-.52,-1.03,-.52,-.90,-.53,-1.37,-.51,-1.41,-.48,-1.06,-.48,-1.17,-.46,-1.23,-.47,-1.28,-.45,-.70,-.44,-.66,-.42,-.81,-.42,-.87,-.39,-.64,-.37,-.97,-.36,-.95,-.35,-1.03,-.36,-1.35,-.32,-1.13,-.30,-1.17,-.28,-1.15,-.33,-.56,-.32,-.81,-.30,-.66,-.25,-1.44,-.25,-1.28,-.21,-1.24,-.21,-.87,-.18,-1.30,-.16,-.95,-.14,-1.40,-.14,-.74,-.13,-.79,-.10,-.79,-.11,-.94,-.08,-1.20,-.05,-1.26,-.07,-.64,-.02,-1.09,-.01,-.98,.00,-.77,.02,-.98,.02,-1.06,.04,-1.30,.04,-.86,.05,-.81,.07,-1.14,.07,-1.23,.08,-.99,.13,-1.15,.14,-1.06,.15,-1.18,.16,-1.14,.19,-.71,.20,-.81,.21,-.74,.22,-.77,.19,-1.27,.22,-1.38,.27,-1.42,.27,-1.29,.27,-1.04,.28,-1.01,.27,-.81,.28,-.86,.34,-.58,.35,-.67,.36,-.69,.38,-.79,.40,-.82,.38,-1.16,.40,-1.14,.42,-.65,.45,-.58,.46,-.59,.48,-.65,.49,-.88,.51,-.78,.53,-.78,.54,-.87,.53,-1.36,.57,-.99,.59,-.98,.63,-.98,.64,-.72,.65,-.65,.69,-.76,.71,-.95,.72,-.73,.73,-1.21,.74,-1.41,.76,-.97,.83,-.79,.85,-1.04,.86,-1.01,.88,-.62,.88,-.67,.91,-.73,.92,-.74,.92,-.86,.93,-.59,.96,-1.23,.96,-1.31,.94,-1.38,.99,-1.22,.97,-.95,.99,-.91,.99,-.97,1.00,-.86,1.01,-.99,1.05,-.53,1.06,-.85,1.09,-1.06,1.10,-1.07,1.13,-.67,1.14,-.69,1.14,-.83,1.19,-.53,1.19,-1.28,1.22,-.88,1.22,-.83,1.24,-1.15,1.24,-1.19,1.28,-1.05,1.32,-1.05,1.30,-.94,1.31,-.65,1.34,-.67,1.33,-.82,1.40,-.74,1.45,-.90,1.46,-1.06,1.44,-1.21,
-1.20,1.30,-.95,1.44,-.62,1.38,-.25,1.40,.04,1.32,.46,1.46,.82,1.42,1.28,1.38,1.42,1.20,-1.38,1.05,-1.02,1.22,-.52,1.20,-.18,1.22,.30,1.12,.72,1.10,1.05,1.24,1.40,1.02,-1.30,.72,-.80,.98,-.33,.70,.10,.95,.52,.74,.95,.72,1.25,.88,-1.15,.35,-.70,.30,-.20,.42,.24,.62,.68,.40,1.12,.66,1.45,.35,-1.42,-.30,-.92,.22,-.45,.00,.02,.48,.40,.04,.84,.36,1.20,.00,-1.25,-.45,-.68,-.18,-.15,-.55,.28,-.18,.70,-.48,1.08,-.38,1.44,-.70,-1.05,-.75,-.50,-.62,-.02,-.65,.42,-.64,.88,-.90,1.25,-.58,-1.40,-1.12,-.84,-1.02,-.30,-.80,.12,-.86,.58,-1.10,1.02,-1.12,1.38,-1.35,-1.18,-1.30,-.62,-1.25,-.08,-1.12,.36,-1.30,.78,-1.28,1.15,-.98,-1.32,-.88,-.78,-.42,-.22,-.95,.20,-.34,.62,-.75,1.18,-.70,-.60,.10,-.05,.26,.48,.48,.92,.05,1.32,.62,-1.00,.55,-.40,.86,.12,.70,.60,.92,1.02,.96,-.22,1.08,-1.46,.66,-1.06,-.12,-.36,-.05,.15,-.12,.58,.02,1.00,-.02,1.35,-.22];

const qam16Awgn15 = [
-1.31,.99,-1.21,.86,-1.14,.81,-1.17,.94,-1.13,1.12,-1.14,1.01,-1.10,1.06,-1.09,.87,-1.04,1.12,-1.03,.99,-.99,1.12,-.97,1.04,-1.01,.94,-.99,.87,-1.04,.82,-.97,1.21,-.93,1.26,-.89,1.20,-.93,1.06,-.91,.99,-.90,.92,-.94,.89,-.88,1.09,-.84,1.06,-.83,1.12,-.80,1.06,-.78,.99,-.85,.87,-.83,.85,-.76,.92,-.95,1.02,-.98,.73,-.96,.72,-.96,.65,-.69,1.00,-.63,.97,-.66,1.12,
-.54,.97,-.49,.76,-.47,.94,-.48,.88,-.46,1.09,-.44,1.13,-.43,1.04,-.42,1.15,-.40,.92,-.39,.90,-.39,1.00,-.37,.95,-.38,1.12,-.34,1.03,-.33,1.26,-.31,1.20,-.29,1.25,-.40,.76,-.34,.75,-.31,.97,-.29,1.04,-.28,.92,-.26,.85,-.25,.87,-.23,.94,-.20,.91,-.20,.82,-.19,1.12,-.23,1.08,-.20,.70,-.15,1.01,-.17,.79,-.12,.82,-.25,.62,-.34,.85,
.00,1.12,.04,.70,.08,.99,.08,.83,.15,.85,.15,1.06,.17,1.09,.18,.94,.21,1.23,.23,.82,.24,1.01,.25,.92,.27,1.00,.29,1.13,.30,1.16,.29,.76,.31,1.00,.33,.95,.34,.69,.36,.83,.39,.85,.39,1.04,.42,1.20,.44,.94,.46,.82,.47,.96,.47,.80,.45,.68,.48,1.03,.51,.79,.55,1.20,.53,1.03,.55,.92,.56,1.03,.58,1.08,.37,.92,
.72,.97,.74,.82,.76,1.00,.80,1.03,.83,.99,.85,.90,.88,.88,.86,.97,.91,1.16,.93,.87,.94,.85,.95,.82,.97,1.08,.98,1.12,.97,.94,.99,1.00,1.01,.90,1.03,1.17,1.03,.96,1.04,1.04,1.05,.87,1.08,1.14,1.10,1.08,1.12,1.10,1.15,1.14,1.13,.94,1.20,1.03,.90,1.00,.94,1.04,
-1.16,.18,-1.11,.06,-1.13,.32,-1.11,.36,-1.10,.45,-1.07,.22,-1.06,.27,-1.04,.50,-1.02,.33,-1.01,.46,-1.00,.40,-.97,.32,-.98,.55,-.97,.12,-.94,.23,-.93,.33,-.93,.47,-.91,.56,-.90,.40,-.89,.33,-.87,.47,-.85,.31,-.84,.45,-.87,.17,-.84,.05,-.82,.32,-.81,.49,-.80,.13,-.78,.13,-.77,.31,-.76,.41,-.75,.30,-.70,.17,-.94,-.01,-.93,.37,
-.60,.32,-.56,.56,-.53,.38,-.53,.22,-.52,.18,-.51,.10,-.51,.08,-.48,.28,-.47,.40,-.46,.19,-.44,.38,-.42,.49,-.41,.31,-.40,.13,-.38,.41,-.38,.27,-.35,.22,-.33,.23,-.33,.40,-.31,.36,-.30,.18,-.29,.41,-.28,.42,-.26,.21,-.28,.54,-.25,.62,-.23,.36,-.20,.23,-.19,.22,-.17,.45,-.15,.38,-.06,.17,-.05,.52,-.05,.44,-.05,.31,-.29,.13,
.03,.36,.11,.33,.13,.40,.15,.51,.16,.18,.16,.37,.18,.41,.20,.21,.21,.26,.23,.17,.25,.42,.26,.28,.28,.22,.29,.14,.29,.33,.31,.29,.33,.38,.35,.58,.35,.31,.36,.31,.38,.47,.38,.18,.39,.29,.40,.17,.42,.35,.43,.42,.44,.49,.46,.33,.47,.45,.49,.28,.51,.38,.53,.10,.54,.36,.62,.33,.44,-.01,.22,-.03,
.72,.24,.80,.44,.83,.41,.83,.26,.84,.33,.87,.36,.88,.15,.90,.28,.91,.45,.93,.23,.94,.31,.95,.54,.97,.37,.98,.19,.98,.44,.99,.33,1.01,.13,1.02,.41,1.03,.33,1.04,.22,1.06,.47,1.07,.40,1.10,.28,1.11,.36,1.13,.23,1.15,.38,1.17,.54,1.17,.27,1.29,.22,1.04,.03,.93,.07,.80,.01,.83,.03,.88,-.01,1.07,.08,
-1.17,-.17,-1.10,-.16,-1.18,-.40,-1.13,-.44,-1.09,-.35,-1.04,-.53,-1.05,-.58,-1.01,-.29,-.99,-.41,-.99,-.63,-.97,-.21,-.95,-.12,-.94,-.36,-.92,-.31,-.90,-.15,-.90,-.23,-.89,-.38,-.88,-.46,-.87,-.31,-.85,-.21,-.84,-.30,-.84,-.49,-.83,-.38,-.81,-.35,-.78,-.36,-.87,-.60,-.94,-.02,-.89,-.12,-.89,-.64,-.97,.08,
-.63,-.37,-.60,-.49,-.54,-.53,-.53,-.35,-.51,-.29,-.49,-.24,-.48,-.63,-.47,-.56,-.46,-.35,-.44,-.13,-.43,-.25,-.42,-.18,-.40,-.27,-.40,-.44,-.39,-.33,-.38,-.55,-.37,-.18,-.35,-.25,-.34,-.13,-.33,-.37,-.33,-.45,-.31,-.33,-.30,-.14,-.29,-.58,-.28,-.33,-.26,-.29,-.25,-.63,-.24,-.38,-.22,-.19,-.21,-.26,-.20,-.36,-.19,-.03,-.17,-.23,-.15,-.28,-.12,-.32,-.10,-.37,-.07,-.21,-.05,-.44,-.40,-.68,-.70,-.46,-.66,-.55,
.03,-.35,.04,-.49,.07,-.28,.16,-.06,.17,-.38,.19,-.46,.20,-.33,.21,-.55,.23,-.27,.23,-.62,.25,-.46,.26,-.67,.27,-.32,.29,-.26,.30,-.38,.31,-.33,.33,-.53,.34,-.13,.35,-.29,.37,-.42,.38,-.23,.39,-.51,.40,-.36,.42,-.29,.43,-.41,.45,-.19,.46,-.37,.47,-.44,.48,-.41,.51,-.45,.51,-.60,.58,-.18,.62,-.54,.65,-.57,.62,-.35,.68,-.35,.44,-.01,.39,-.66,.37,-.69,.67,-.18,
.76,-.49,.80,-.10,.81,-.18,.82,-.28,.83,-.50,.84,-.32,.85,-.21,.87,-.36,.88,-.26,.89,-.13,.90,-.51,.90,-.33,.91,-.44,.93,-.21,.94,-.29,.95,-.38,.97,-.49,.98,-.31,.99,-.18,1.01,-.27,1.02,-.36,1.03,-.45,1.04,-.24,1.06,-.17,1.07,-.33,1.08,-.23,1.11,-.21,1.16,-.24,1.22,-.26,1.31,-.35,1.32,-.62,.97,-.15,.89,-.21,
-1.30,-1.09,-1.19,-.87,-1.18,-1.01,-1.16,-1.06,-1.15,-.83,-1.11,-.96,-1.10,-1.01,-1.08,-.81,-1.07,-1.15,-1.06,-1.06,-1.04,-.95,-1.01,-.91,-.99,-1.37,-.98,-.73,-.97,-1.10,-.96,-.79,-.96,-.95,-.94,-.87,-.94,-1.03,-.92,-.97,-.91,-1.15,-.90,-.85,-.89,-.91,-.89,-1.06,-.87,-.97,-.85,-1.09,-.85,-.95,-.83,-.83,-.81,-1.14,-.81,-.93,-.79,-1.01,-.77,-.81,-.74,-.72,-.77,-1.00,-.69,-.94,-.67,-1.12,-.60,-.92,-.60,-1.10,-.57,-.91,
-.49,-1.18,-.48,-1.05,-.47,-.95,-.46,-1.00,-.44,-1.11,-.43,-.79,-.43,-1.15,-.42,-.95,-.40,-1.03,-.39,-1.23,-.38,-.94,-.37,-.85,-.36,-1.08,-.35,-1.00,-.34,-1.14,-.33,-1.05,-.32,-.92,-.31,-.97,-.30,-1.10,-.29,-1.29,-.29,-1.03,-.28,-.86,-.26,-.95,-.25,-1.15,-.24,-1.05,-.22,-1.19,-.21,-.99,-.20,-.85,-.19,-1.08,-.17,-.92,-.15,-1.03,-.15,-.95,-.13,-.79,-.12,-1.01,-.07,-.91,-.06,-.72,-.34,-.95,
.09,-.89,.12,-1.18,.15,-.82,.16,-1.02,.17,-1.15,.17,-.95,.19,-1.06,.21,-.88,.21,-.97,.22,-1.05,.24,-.95,.25,-1.19,.26,-.85,.27,-1.01,.29,-.91,.30,-1.08,.31,-.97,.33,-1.12,.34,-.88,.35,-1.03,.37,-.94,.38,-.99,.39,-1.06,.40,-.91,.42,-1.01,.43,-.96,.44,-1.08,.46,-1.03,.47,-.97,.49,-.91,.52,-.92,.55,-.94,.57,-.94,.47,-.76,.37,-.95,
.70,-.84,.72,-.86,.74,-.95,.78,-.95,.79,-1.09,.81,-.81,.81,-1.03,.83,-1.00,.84,-.76,.85,-1.05,.86,-.87,.88,-1.10,.89,-1.14,.90,-.96,.91,-.78,.92,-1.06,.93,-.91,.94,-1.12,.95,-1.15,.97,-.69,.98,-.85,.99,-.95,1.01,-1.00,1.02,-.91,1.03,-1.17,1.04,-1.06,1.06,-1.03,1.07,-.97,1.08,-.72,1.09,-.88,1.11,-1.05,1.13,-1.01,1.16,-1.10,1.19,-1.18,1.19,-.85,1.21,-.94,1.11,-.73,.84,-.86,.93,-.91];

const qam16Fading = [
-1.11,1.47,-1.19,.93,-1.14,.61,-1.07,.51,-1.47,.45,-1.35,.41,-1.31,.34,-1.26,.35,-1.44,.22,-1.27,.22,-1.21,.17,-1.19,.21,-1.14,.29,-1.33,.09,-1.35,-.02,-1.37,-.09,-1.31,-.13,-1.19,-.12,-1.16,.02,-1.14,-.12,-1.11,-.12,-1.49,-.09,-1.32,-.30,-1.32,-.41,-1.10,-.28,-1.03,-.33,-1.14,-.42,-1.12,-.46,-.98,-.40,-1.45,-.59,-1.10,-.65,-1.01,-.87,-1.17,-.95,-1.17,-1.03,-1.08,-1.11,-1.20,-1.35,-.93,-.96,-.89,-1.10,-.75,-.97,-.69,-1.12,-.58,-.95,-.66,-.85,-.71,-.69,-.76,-.59,-.82,-.46,-.72,-.42,-.63,-.52,-.57,-.52,-1.00,-.01,-.99,.19,-.97,.22,-.95,.15,-.98,.43,-.96,.37,-.92,.32,-.86,.31,-1.00,.49,-.94,-.01,-.91,.02,-.89,.02,-.85,-.05,-.84,.69,-.80,.79,-.77,.64,-.78,.29,-.81,.16,-.73,.16,-.74,.08,-.70,.06,-.73,-.01,-.77,-.08,-.79,-.14,-.72,-.14,-.85,-.23,-.79,-.22,-.77,-.21,-.70,-.21,-.66,-.31,-.64,-.30,-.67,.56,-.66,.33,-.66,.31,-.64,.80,-.60,.75,-.65,.16,-.62,.13,-.60,-.06,-.66,-.06,-.62,-.15,-.59,-.15,-.58,-.24,-.59,-.35,-.54,-.35,-.59,.46,-.57,.51,-.54,.51,-.55,.23,-.58,.13,-.51,.65,-.50,.83,-.50,.72,-.52,.47,-.49,.36,-.51,.10,-.52,-.04,-.49,-.01,-.51,-.13,-.51,-.81,-.51,-.85,-.45,-1.38,-.47,.36,-.45,.45,-.44,.73,-.45,.29,-.46,.22,-.44,.08,-.46,.04,-.44,-.09,-.46,-.22,-.44,-.28,-.45,-.35,-.42,-.38,-.41,-.42,-.39,-.49,-.40,-.60,-.41,-.79,-.39,-.92,-.44,1.15,-.40,1.22,-.40,1.35,-.39,.88,-.39,.77,-.41,.77,-.39,.50,-.38,.42,-.36,.36,-.36,.22,-.35,.15,-.36,.06,-.37,-.01,-.35,-.15,-.34,-.23,-.32,1.00,-.33,.63,-.31,.57,-.30,.45,-.31,.33,-.30,.28,-.32,.22,-.28,.13,-.31,.05,-.29,-.05,-.31,-.17,-.28,-.26,-.30,-.33,-.31,-.59,-.30,-.64,-.28,-.71,-.28,-.89,-.27,-1.19,-.24,-1.19,-.25,1.03,-.22,.91,-.25,.76,-.21,.77,-.23,.63,-.22,.56,-.23,.49,-.21,.42,-.25,.36,-.21,.29,-.23,.21,-.19,.15,-.22,.08,-.23,-.03,-.19,-.08,-.22,-.18,-.21,-.26,-.22,-.36,-.19,-.45,-.21,-.54,-.21,-1.38,
-.16,1.03,-.16,1.28,-.14,1.26,-.13,1.06,-.16,.74,-.17,.69,-.16,.64,-.13,.54,-.17,.47,-.14,.40,-.16,.32,-.13,.26,-.16,.18,-.13,.10,-.16,.03,-.13,-.05,-.16,-.13,-.13,-.21,-.16,-.28,-.13,-.36,-.16,-.44,-.14,-.60,-.14,-.64,-.16,-.76,-.14,-.85,-.14,-1.37,-.13,-1.28,-.08,1.17,-.09,1.09,-.08,.79,-.09,.60,-.07,.51,-.09,.42,-.07,.33,-.08,.24,-.06,.17,-.09,.08,-.07,.00,-.08,-.08,-.06,-.15,-.09,-.23,-.07,-.31,-.08,-.41,-.05,-.51,-.07,-.77,-.07,-.81,-.07,-.91,-.09,-1.06,-.08,-1.20,-.04,-.99,-.03,-1.40,-.02,.95,.00,.98,.01,1.13,-.02,.68,-.03,.56,.00,.49,-.03,.38,.00,.31,-.03,.21,.00,.13,-.03,.03,.00,-.05,-.03,-.13,.00,-.21,-.03,-.28,.00,-.36,-.03,-.44,.01,-1.05,.02,-1.41,.00,-1.28,.04,-1.11,.05,-.98,.06,.83,.07,.73,.06,.63,.07,.54,.05,.45,.08,.36,.05,.27,.08,.18,.05,.09,.07,.00,.05,-.09,.08,-.18,.05,-.27,.07,-.36,.06,-.44,.09,-.53,.07,-.56,.06,1.01,.10,.92,.11,1.24,.13,.99,.13,.79,.14,.69,.12,.59,.15,.49,.12,.41,.15,.32,.13,.23,.15,.14,.12,.05,.15,-.04,.13,-.13,.15,-.22,.12,-.31,.15,-.41,.13,-.64,.15,-.59,.15,-.79,.10,-.91,.11,-.99,.15,-.95,.16,-1.04,.14,-1.24,.16,-1.12,.18,1.31,.18,.76,.19,.65,.20,.79,.21,.55,.19,.44,.21,.35,.20,.26,.22,.17,.20,.08,.22,-.01,.20,-.10,.22,-.19,.20,-.28,.22,-.38,.20,-.49,.22,-.53,.20,-.67,.22,-.76,.23,-.87,.21,-1.35,.23,1.05,.25,.92,.27,1.01,.26,1.36,.28,.92,.28,.72,.28,.64,.30,.56,.27,.47,.30,.41,.27,.31,.30,.22,.27,.13,.30,.04,.27,-.05,.30,-.15,.27,-.23,.30,-.33,.28,-.44,.31,-.54,.27,-.71,.28,-.87,.34,1.15,.34,.22,.36,.44,.36,.33,.38,.13,.36,.03,.38,-.08,.36,-.18,.38,-.28,.36,-.37,.38,-.60,.39,-.82,.41,-1.10,.43,.73,.41,.59,.43,.51,.41,.40,.43,.28,.42,.18,.45,.08,.42,-.03,.45,-.13,.42,-.23,.45,-.33,.43,-.44,.45,-.64,.47,-.76,.46,1.12,.48,.99,.50,.87,.48,.49,.49,.35,.51,.13,.50,.03,.50,-.18,.48,-.31,.50,-.47,.51,-.87,.51,-1.08,
.56,1.19,.59,1.15,.55,.93,.56,.53,.55,.45,.56,.28,.55,-.12,.56,-.21,.55,-.49,.53,-.54,.61,.80,.59,.68,.60,.05,.61,-.23,.62,-.03,.61,-.29,.62,-.35,.64,-.42,.62,-.62,.62,-.68,.64,-1.03,.65,-1.34,.65,.45,.66,.29,.66,.13,.68,.22,.68,-1.04,.68,1.32,.70,.73,.71,.81,.72,1.17,.72,-.55,.73,.82,.73,-.03,.73,-.10,.75,.41,.75,.32,.78,.00,.81,.13,.81,.00,.81,.76,.83,-.28,.84,-.06,.87,.77,.87,.55,.87,-.08,.88,.28,.88,.18,.89,-.77,.90,-.23,.91,.31,.92,-.69,.92,.10,.94,.91,.96,-.23,.96,-.33,.97,.01,.98,.42,.98,-.23,.99,.21,1.00,.52,1.01,.09,1.02,1.15,1.02,-.78,1.06,.23,1.07,-.35,1.08,.91,1.08,-.21,1.09,.23,1.09,.06,1.12,.71,1.12,.58,1.12,.40,1.12,-.14,1.12,-.64,1.14,-.21,1.18,-.32,1.19,.05,1.22,.06,1.22,.03,1.21,-.55,1.21,-.59,1.24,-.42,1.25,-.06,1.26,-.14,1.35,1.04,1.34,.01,1.35,-.22,1.35,-.18,1.36,-.41,1.39,.66,1.40,-.05,1.41,-.11,1.46,.15,1.48,-.28,.18,1.49,.23,1.49,-.04,1.44,-.42,1.47,.92,-1.41,.92,-1.35,.89,-.76,.21,-1.34,-.05,-1.31,-.01,-1.41,
-.35,.20,-.31,.08,-.28,-.04,-.26,.27,-.24,.15,-.22,-.12,-.20,.03,-.19,.33,-.17,-.22,-.16,.19,-.14,.07,-.13,-.05,-.11,.24,-.10,-.16,-.08,.12,-.07,.36,-.06,.00,-.04,-.28,-.03,.16,-.01,.06,.00,-.10,.02,.28,.03,-.21,.05,.10,.06,.01,.08,-.13,.09,.20,.11,-.04,.12,.31,.14,.07,.15,-.25,.17,.14,.18,-.08,.20,.02,.22,.24,.23,-.17,.25,.09,.27,-.02,.29,.18,.31,-.11,.33,.05,.35,-.20,
-.38,-.07,-.34,.31,-.30,-.18,-.27,.12,-.25,.01,-.23,.22,-.21,-.29,-.18,.10,-.16,-.02,-.15,.28,-.12,-.09,-.11,.15,-.09,.02,-.08,-.23,-.05,.21,-.04,.08,-.02,-.06,-.01,.34,.01,-.17,.02,.12,.04,.03,.05,-.29,.07,.23,.08,-.07,.10,.14,.11,-.19,.13,.01,.14,.25,.16,-.12,.18,.09,.19,-.03,.21,.32,.23,-.23,.24,.06,.26,.17,.28,-.09,.30,.27,.32,-.15,.34,.12,.37,-.03,.40,.08,
-.33,-.25,-.29,.18,-.26,-.11,-.23,.06,-.19,-.15,-.17,.24,-.14,-.19,-.12,.04,-.10,.29,-.07,-.12,-.05,.14,-.03,-.20,-.01,.22,.01,-.02,.03,.18,.04,-.36,.06,.27,.07,-.16,.09,.05,.11,.26,.12,-.10,.14,.16,.16,-.31,.18,.21,.19,-.14,.21,.11,.22,-.27,.24,-.04,.26,.22,.28,-.18,.30,.04,.33,-.28,.36,.20,.39,-.12,-.42,.12,-.40,-.16,-.36,.04,-.32,-.34,-.13,.40,.02,.42,.15,.38,.20,-.36,.44,-.22,-.44,.26,.46,.15,-.08,-.40,.09,-.42];

const colors = {orig:"#4C72B0", awgn5:"#55A868", awgn15:"#C44E52", fading:"#8172B3"};
const panelData = [qpskIdeal, qpskAwgn5, qpskAwgn15, qpskFading, qam16Ideal, qam16Awgn5, qam16Awgn15, qam16Fading];
const panelColors = [colors.orig, colors.awgn5, colors.awgn15, colors.fading, colors.orig, colors.awgn5, colors.awgn15, colors.fading];

function toPoints(flat){ const out=[]; for(let i=0;i+1<flat.length;i+=2) out.push({I:flat[i], Q:flat[i+1]}); return out; }

const colLeft = [91, 586, 1081, 1575];
const rowTop = [44, 535];
const W = 391, H = 391;
const mL = 91, mT = 44, mR = 14, mB = 66;
const FONT = '"Liberation Sans", Arial, sans-serif';
const fmt = d3.format(".1f");
const root = document.getElementById("root");

panelData.forEach((flat, k) => {
  const r = Math.floor(k / 4), c = k % 4;
  const pts = toPoints(flat);
  const ideal = (c === 0);
  const svg = Plot.plot({
    width: W + mL + mR, height: H + mT + mB,
    marginLeft: mL, marginTop: mT, marginRight: mR, marginBottom: mB,
    style: {fontFamily: FONT, color: "#262626", background: "transparent", overflow: "visible"},
    x: {domain: [-1.5, 1.5]},
    y: {domain: [-1.5, 1.5]},
    marks: [
      Plot.gridX(tickValues, {stroke: "#cccccc", strokeOpacity: 0.8, strokeWidth: 1, strokeDasharray: "5,2.5"}),
      Plot.gridY(tickValues, {stroke: "#cccccc", strokeOpacity: 0.8, strokeWidth: 1, strokeDasharray: "5,2.5"}),
      ideal
        ? Plot.dot(pts, {x: "I", y: "Q", symbol: "square", r: 5, fill: panelColors[k], stroke: "none"})
        : Plot.dot(pts, {x: "I", y: "Q", r: 4.1, fill: panelColors[k], fillOpacity: 0.72, stroke: "none", clip: true}),
      Plot.frame({stroke: "#cccccc", strokeWidth: 1.4}),
      Plot.axisX(tickValues, {tickSize: 8, tickPadding: 5, tickFormat: fmt, fontSize: 16.7, strokeWidth: 1.5, label: null}),
      Plot.axisY(tickValues, {tickSize: 8, tickPadding: 5, tickFormat: fmt, fontSize: 16.7, strokeWidth: 1.5, label: null}),
      Plot.text([panelTitles[k]], {frameAnchor: "top", dy: -14.5, lineAnchor: "middle", textAnchor: "middle", fontSize: 19.4, fill: "#262626"}),
      Plot.text([xLabel], {frameAnchor: "bottom", dy: 41.5, lineAnchor: "middle", textAnchor: "middle", fontSize: 16.2, fill: "#262626"}),
      Plot.text([yLabel], {frameAnchor: "left", dx: -65, rotate: -90, lineAnchor: "middle", textAnchor: "middle", fontSize: 16.2, fill: "#262626"})
    ]
  });
  svg.style.position = "absolute";
  svg.style.left = (colLeft[c] - mL) + "px";
  svg.style.top = (rowTop[r] - mT) + "px";
  svg.style.maxWidth = "none";
  root.appendChild(svg);
});
</script>
</body></html>
